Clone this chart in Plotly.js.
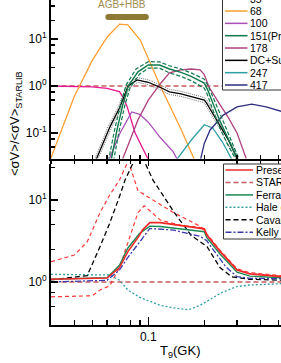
<!DOCTYPE html>
<html><head><meta charset="utf-8">
<script src="https://cdn.plot.ly/plotly-3.0.1.min.js"></script>
<style>html,body{margin:0;padding:0;background:#fff;overflow:hidden}#chart{width:281px;height:363px}</style>
</head><body><div id="chart"></div>
<script>
// ---------- TOP PANEL: resonance contributions (T9 in GK, ratio) ----------
const T35  = [0.03,0.05,0.06,0.07,0.073,0.077,0.085,0.094,0.101];
const V35  = [1.0,0.96,0.89,0.76,0.58,0.36,0.1,0.044,0.025];
const T68  = [0.0295,0.04,0.05,0.06,0.07,0.0776,0.0905,0.1,0.116,0.15,0.2];
const V68  = [0.025,0.6,3.5,10.9,20.8,20,9.5,3.9,1.0,0.12,0.009];
const T100 = [0.061,0.0705,0.0815,0.09,0.1,0.116,0.136,0.145];
const V100 = [0.025,0.1,0.28,0.25,0.17,0.08,0.04,0.025];
const T151 = [0.063,0.068,0.073,0.078,0.088,0.1,0.115,0.13,0.15,0.17,0.2,0.208,0.24,0.27,0.31];
const V151 = [0.025,0.12,0.4,1.0,2.0,2.8,2.8,2.3,1.95,1.6,1.15,0.85,0.2,0.07,0.022];
const T151hi = [0.061,0.066,0.071,0.076,0.086,0.1,0.115,0.13,0.15,0.17,0.2,0.21,0.245,0.275,0.315];
const V151hi = [0.025,0.12,0.4,1.05,2.3,3.3,3.25,2.7,2.3,1.9,1.4,1.0,0.24,0.08,0.022];
const T151lo = [0.065,0.07,0.075,0.08,0.09,0.1,0.115,0.13,0.15,0.17,0.2,0.206,0.235,0.265,0.305];
const V151lo = [0.025,0.12,0.4,0.95,1.8,2.4,2.4,1.9,1.6,1.3,0.9,0.72,0.17,0.06,0.022];
const T178 = [0.072,0.08,0.088,0.1,0.117,0.13,0.15,0.17,0.19,0.2,0.212,0.243,0.27,0.3,0.34];
const V178 = [0.025,0.07,0.19,0.5,1.16,1.9,2.2,2.3,2.2,1.75,0.95,0.4,0.21,0.1,0.025];
const TDC  = [0.052,0.0625,0.07,0.078,0.087,0.1,0.115,0.13,0.15,0.2,0.206,0.24,0.27,0.31];
const VDC  = [0.025,0.14,0.34,1.0,1.35,1.2,0.95,0.75,0.68,0.5,0.43,0.16,0.07,0.022];
const TDChi = [0.051,0.061,0.069,0.077,0.087,0.1,0.115,0.13,0.15,0.2,0.208,0.242,0.273,0.315];
const VDChi = [0.025,0.14,0.36,1.1,1.52,1.35,1.07,0.85,0.77,0.57,0.48,0.17,0.07,0.022];
const TDClo = [0.053,0.064,0.071,0.079,0.088,0.1,0.115,0.13,0.15,0.2,0.204,0.238,0.267,0.305];
const VDClo = [0.025,0.14,0.32,0.9,1.2,1.06,0.84,0.66,0.6,0.44,0.38,0.14,0.06,0.022];
const T247 = [0.14,0.17,0.2,0.222,0.25,0.285];
const V247 = [0.025,0.07,0.15,0.128,0.065,0.025];
const T417 = [0.19,0.2,0.215,0.253,0.3,0.36,0.43,0.55];
const V417 = [0.025,0.06,0.116,0.24,0.36,0.41,0.36,0.27];
const Tref = [0.028,0.6];
const Vref = [1,1];
const T_AGB = [0.061,0.097];
const V_AGB = [29.4,29.4];

// ---------- BOTTOM PANEL: rate ratios to STARLIB ----------
const Tpres = [0.03,0.06,0.07,0.0777,0.0897,0.093,0.102,0.116,0.2,0.206,0.243,0.3,0.352,0.55];
const Vpres = [1.08,1.12,1.5,2.35,3.7,4.3,5.3,5.3,4.45,3.75,2.35,1.4,1.25,1.15];
const Tstar = [0.028,0.6];
const Vstar = [1,1];
const TstarHi = [0.03,0.04,0.047,0.055,0.062,0.07,0.078,0.088,0.106,0.137,0.19,0.206,0.243,0.3,0.352,0.55];
const VstarHi = [1.77,2.13,3.1,7,11.5,17.5,30,13,10,7,4.8,3.9,2.45,1.45,1.3,1.18];
const TstarLo = [0.03,0.05,0.055,0.062,0.07,0.078,0.088,0.095,0.116,0.15,0.2,0.206,0.243,0.3,0.352,0.55];
const VstarLo = [0.66,0.68,0.8,0.9,1.5,3.2,7,8.5,5.7,4.9,4.55,3.8,2.4,1.42,1.27,1.16];
const Tferr = [0.03,0.06,0.07,0.0777,0.0897,0.102,0.116,0.2,0.206,0.243,0.3,0.352,0.55];
const Vferr = [1.08,1.13,1.6,2.6,3.9,4.8,4.75,4.1,3.5,2.2,1.32,1.18,1.12];
const Thale = [0.03,0.062,0.07,0.0777,0.09,0.116,0.14,0.165,0.19,0.25,0.3,0.352,0.55];
const Vhale = [1.24,1.22,1.05,0.8,0.65,0.52,0.48,0.46,0.52,0.75,0.88,0.92,0.96];
const Tcav = [0.03,0.047,0.055,0.062,0.07,0.075,0.085,0.095,0.106,0.137,0.17,0.207,0.243,0.28,0.35,0.55];
const Vcav = [1.06,1.2,2.7,5.2,11,17.5,32,30,17.5,7.2,3.7,2.7,1.5,1.16,1.08,1.05];
const Tkel = [0.03,0.06,0.07,0.0777,0.093,0.102,0.137,0.19,0.206,0.26,0.3,0.352,0.55];
const Vkel = [1.0,1.05,1.4,2.0,3.4,4.5,4.3,3.6,3.2,1.55,1.16,1.11,1.1];

// ---------- ticks & labels ----------
const xMajor = [0.1];
const xMajorText = ['0.1'];
const xMinor = [0.03,0.04,0.05,0.06,0.07,0.08,0.09,0.2,0.3,0.4,0.5];
const yTopMajor = [0.1,1,10];
const yTopText = ['10<sup>-1</sup>','10<sup>0</sup>','10<sup>1</sup>'];
const yTopMinor = [0.05,0.075,0.25,0.5,0.75,2.5,5,7.5,25,50];
const yBotMajor = [1,10];
const yBotText = ['10<sup>0</sup>','10<sup>1</sup>'];
const yBotMinor = [0.5,0.75,2.5,5,7.5,25];

const topNames  = ['35','68','100','151(Present)','178','DC+Sum','247','417'];
const topColors = ['#e6188f','#ff9f30','#a94fb8','#117a4c','#b0417f','#000000','#2f9ea7','#2e2e80'];
const botNames  = ['Present work','STARLIB','Ferraro et al.','Hale et al.','Cavanna et al.','Kelly et al.'];
const botColors = ['#f02828','#c65a5a','#1a8a55','#33a0a8','#000000','#3a3ab0'];
const botDash   = ['solid','5px,3px','solid','2px,2px','5px,3px','6px,2px,2px,2px'];

// ---------- geometry helpers (paper coords) ----------
const W=281, H=363, ML=51, MB=38, PW=W-ML, PH=H-MB;
const px = p => (p-ML)/PW;
const py = p => (PH-p)/PH;

const FONT = 'Arial, "Liberation Sans", sans-serif';
function ln(x,y,color,width,dash,xa,ya){
  return {x:x,y:y,mode:'lines',type:'scatter',xaxis:xa,yaxis:ya,showlegend:false,hoverinfo:'skip',
          line:{color:color,width:width,dash:dash||'solid'}};
}
const traces = [
  ln(Tref,Vref,'#c65a5a',1.5,'5px,3px','x2','y'),
  ln(T35,V35,topColors[0],1.3,null,'x2','y'),
  ln(T68,V68,topColors[1],1.3,null,'x2','y'),
  ln(T100,V100,topColors[2],1.3,null,'x2','y'),
  ln(T178,V178,topColors[4],1.3,null,'x2','y'),
  ln(T247,V247,topColors[6],1.3,null,'x2','y'),
  ln(T417,V417,topColors[7],1.3,null,'x2','y'),
  ln(TDChi,VDChi,'#777777',1,'1px,1px','x2','y'),
  ln(TDClo,VDClo,'#777777',1,'1px,1px','x2','y'),
  ln(TDC,VDC,'#000000',1.3,null,'x2','y'),
  ln(T151hi,V151hi,topColors[3],1.2,'4px,2px','x2','y'),
  ln(T151lo,V151lo,topColors[3],1.2,'4px,2px','x2','y'),
  ln(T151,V151,topColors[3],1.4,null,'x2','y'),
  {x:T_AGB,y:V_AGB,mode:'lines+markers',xaxis:'x2',yaxis:'y',showlegend:false,hoverinfo:'skip',
   line:{color:'#8c7a35',width:6},marker:{color:'#8c7a35',size:6}},
  {x:[],y:[],xaxis:'x3',yaxis:'y',showlegend:false,hoverinfo:'skip'},
  // bottom panel
  ln(Tstar,Vstar,botColors[1],1.5,botDash[1],'x','y2'),
  ln(TstarHi,VstarHi,'#ff3a3a',1.2,'4px,3px','x','y2'),
  ln(TstarLo,VstarLo,'#ff3a3a',1.2,'4px,3px','x','y2'),
  ln(Thale,Vhale,botColors[3],1.3,botDash[3],'x','y2'),
  ln(Tcav,Vcav,botColors[4],1.3,botDash[4],'x','y2'),
  ln(Tkel,Vkel,botColors[5],1.3,botDash[5],'x','y2'),
  ln(Tferr,Vferr,botColors[2],1.4,null,'x','y2'),
  ln(Tpres,Vpres,botColors[0],1.6,null,'x','y2')
];

const xr = [-1.523, -1.523+PW/186];
const shapes = [], annos = [];
// top legend
shapes.push({type:'rect',xref:'paper',yref:'paper',x0:px(222.5),x1:px(300),y0:py(90),y1:py(-10),
  line:{color:'#333',width:1},fillcolor:'#fff',layer:'above'});
topNames.forEach((n,i)=>{
  const yy = -1.3 + i*12.33;
  shapes.push({type:'line',xref:'paper',yref:'paper',x0:px(225),x1:px(247.5),y0:py(yy),y1:py(yy),
    line:{color:topColors[i],width:1.5},layer:'above'});
  annos.push({xref:'paper',yref:'paper',x:px(248),y:py(yy),text:n,showarrow:false,xanchor:'left',yanchor:'middle',
    font:{size:10.5,color:'#000',family:FONT}});
});
// bottom legend
shapes.push({type:'rect',xref:'paper',yref:'paper',x0:px(223.5),x1:px(300),y0:py(239),y1:py(164),
  line:{color:'#333',width:1},fillcolor:'#fff',layer:'above'});
botNames.forEach((n,i)=>{
  const yy = 170 + i*12.45;
  shapes.push({type:'line',xref:'paper',yref:'paper',x0:px(225.5),x1:px(253),y0:py(yy),y1:py(yy),
    line:{color:botColors[i],width:1.5,dash:botDash[i]},layer:'above'});
  annos.push({xref:'paper',yref:'paper',x:px(253.5),y:py(yy),text:n,showarrow:false,xanchor:'left',yanchor:'middle',
    font:{size:10.5,color:'#000',family:FONT}});
});
// AGB+HBB label
annos.push({xref:'x2',yref:'y',x:Math.log10(0.0725),y:Math.log10(55),text:'AGB+HBB',showarrow:false,
  xanchor:'center',yanchor:'middle',font:{size:10,color:'#a08d4c',family:FONT}});
// axis titles
annos.push({xref:'paper',yref:'paper',x:px(16),y:py(124),textangle:-90,showarrow:false,xanchor:'center',yanchor:'middle',
  text:'&lt;σV&gt;/&lt;σV&gt;<sub>STARLIB</sub>',font:{size:13,color:'#000',family:FONT}});
annos.push({xref:'paper',yref:'paper',x:px(180),y:py(351),showarrow:false,xanchor:'center',yanchor:'middle',
  text:'T<sub>9</sub>(GK)',font:{size:13,color:'#000',family:FONT}});

const axBase = {showgrid:false,zeroline:false,showline:true,linecolor:'#000',linewidth:2,
  ticks:'inside',tickcolor:'#000',tickwidth:1.5,tickfont:{size:12,family:FONT,color:'#000'}};

const layout = {
  width:W,height:H,margin:{l:ML,r:0,t:0,b:MB,autoexpand:false},
  paper_bgcolor:'#fff',plot_bgcolor:'rgba(0,0,0,0)',showlegend:false,
  font:{family:FONT,color:'#000'},
  xaxis:Object.assign({},axBase,{type:'log',range:xr,anchor:'y2',domain:[0,1],
    tickmode:'array',tickvals:xMajor,ticktext:xMajorText,ticklen:8,
    minor:{tickmode:'array',tickvals:xMinor,ticks:'inside',ticklen:5,tickcolor:'#000',tickwidth:1.5}}),
  xaxis2:Object.assign({},axBase,{type:'log',range:xr,anchor:'y',matches:'x',showticklabels:false,
    tickmode:'array',tickvals:xMajor,ticklen:6,
    minor:{tickmode:'array',tickvals:xMinor,ticks:'inside',ticklen:4,tickcolor:'#000',tickwidth:1.5}}),
  xaxis3:{type:'log',range:xr,overlaying:'x2',anchor:'y',showgrid:false,zeroline:false,showline:false,
    showticklabels:false,ticks:'outside',tickmode:'array',tickvals:xMajor,ticklen:6,tickcolor:'#000',tickwidth:1.5,
    minor:{tickmode:'array',tickvals:xMinor,ticks:'outside',ticklen:4,tickcolor:'#000',tickwidth:1.5}},
  yaxis:Object.assign({},axBase,{type:'log',range:[-1.543,1.830],domain:[py(158.5),1],anchor:'x2',
    tickmode:'array',tickvals:yTopMajor,ticktext:yTopText,ticklen:7,
    minor:{tickmode:'array',tickvals:yTopMinor,ticks:'inside',ticklen:4,tickcolor:'#000',tickwidth:1.5}}),
  yaxis2:Object.assign({},axBase,{type:'log',range:[-0.524,1.439],domain:[0,py(164)],anchor:'x',
    tickmode:'array',tickvals:yBotMajor,ticktext:yBotText,ticklen:7,
    minor:{tickmode:'array',tickvals:yBotMinor,ticks:'inside',ticklen:4,tickcolor:'#000',tickwidth:1.5}}),
  shapes:shapes,annotations:annos
};
Plotly.newPlot('chart',traces,layout,{staticPlot:true,displayModeBar:false});
</script></body></html>
